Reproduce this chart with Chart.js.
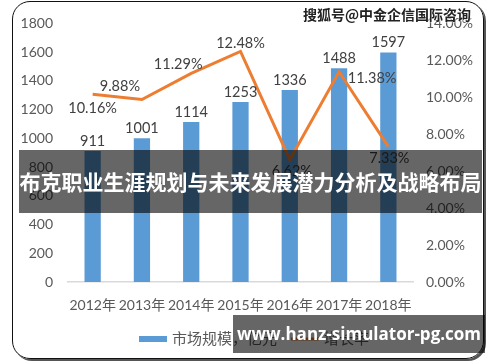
<!DOCTYPE html>
<html>
<head>
<meta charset="utf-8">
<script src="https://cdn.jsdelivr.net/npm/chart.js@4.4.0/dist/chart.umd.min.js"></script>
<style>
  html, body { margin: 0; padding: 0; background: #fff; }
  #wrap { position: relative; width: 500px; height: 362px; overflow: hidden; background: #fff; }
  #frame { position: absolute; left: 12px; top: 1px; width: 470px; height: 356px; border: 1.5px solid #111;
    border-radius: 18px; box-shadow: 2px 2px 0 #555; }
  #box { position: absolute; left: 0; top: 0; width: 500px; height: 362px; }
  .banner { position: absolute; background: rgba(0,0,0,0.6); color: #fff; font-weight: bold;
    font-family: "Noto Sans CJK SC", "Noto Sans", sans-serif; white-space: nowrap; }
  #title { left: 19px; top: 150px; width: 463px; height: 63px; line-height: 63px; font-size: 21px; text-align: center; }
  #url { left: 233px; top: 315px; width: 252px; height: 38px; line-height: 38px; font-size: 17px; text-align: center;
    font-family: "Open Sans", "Noto Sans", sans-serif; }
  #mark { position: absolute; left: 303px; top: 4px; font-size: 14px; font-weight: bold; color: #222;
    font-family: "Noto Sans CJK SC", sans-serif; text-shadow: 0 0 2px #fff, 0 0 2px #fff; }
</style>
</head>
<body>
<div id="wrap">
  <div id="frame"></div>
  <div id="box"><canvas id="chartCanvas" width="500" height="362"></canvas></div>
  <div id="mark">搜狐号@中金企信国际咨询</div>
  <div class="banner" id="title">布克职业生涯规划与未来发展潜力分析及战略布局</div>
  <div class="banner" id="url">www.hanz-simulator-pg.com</div>
</div>
<script>
const years = ['2012年', '2013年', '2014年', '2015年', '2016年', '2017年', '2018年'];
const marketSize = [911, 1001, 1114, 1253, 1336, 1488, 1597];
const growthRate = [10.16, 9.88, 11.29, 12.48, 6.62, 11.38, 7.33];

// where each growth label sits relative to its point [dx, dy]
const rateLabelShift = [[0, 14], [-22, -13], [-13, -9], [0, -8], [2, 12], [33, 7], [1, 12]];

const font = 'Lato, "Noto Sans CJK SC", sans-serif';
const grey = '#595959';

const valueLabels = {
  id: 'valueLabels',
  afterDatasetsDraw(chart) {
    const ctx = chart.ctx;
    ctx.save();
    ctx.font = '14.5px ' + font;
    ctx.fillStyle = '#404040';
    ctx.textAlign = 'center';
    ctx.textBaseline = 'middle';
    chart.getDatasetMeta(0).data.forEach((bar, i) => {
      ctx.fillText(String(marketSize[i]), bar.x, bar.y - 10);
    });
    chart.getDatasetMeta(1).data.forEach((pt, i) => {
      const s = rateLabelShift[i];
      ctx.fillText(growthRate[i].toFixed(2) + '%', pt.x + s[0], pt.y + s[1]);
    });
    ctx.restore();
  }
};

// legend drawn under the axis: bar swatch, then line swatch
const bottomLegend = {
  id: 'bottomLegend',
  afterDraw(chart) {
    const ctx = chart.ctx;
    const ds = chart.data.datasets;
    ctx.save();
    ctx.font = '15px ' + font;
    ctx.textBaseline = 'middle';
    const y = 339;
    let x = 139;
    ctx.fillStyle = ds[0].backgroundColor;
    ctx.fillRect(x, y - 3, 28, 6);
    ctx.fillStyle = grey;
    ctx.fillText(ds[0].label, x + 33, y);
    x += 33 + ctx.measureText(ds[0].label).width + 14;
    ctx.strokeStyle = ds[1].borderColor;
    ctx.lineWidth = 3;
    ctx.beginPath();
    ctx.moveTo(x, y);
    ctx.lineTo(x + 28, y);
    ctx.stroke();
    ctx.fillText(ds[1].label, x + 33, y);
    ctx.restore();
  }
};

new Chart(document.getElementById('chartCanvas'), {
  type: 'bar',
  data: {
    labels: years,
    datasets: [
      {
        label: '市场规模，亿元',
        data: marketSize,
        backgroundColor: '#5B9BD5',
        categoryPercentage: 1,
        barPercentage: 0.33,
        yAxisID: 'y',
        order: 2
      },
      {
        type: 'line',
        label: '增长率',
        data: growthRate,
        borderColor: '#ED7D31',
        backgroundColor: '#ED7D31',
        borderWidth: 3,
        pointRadius: 0,
        tension: 0,
        yAxisID: 'y1',
        order: 1
      }
    ]
  },
  options: {
    responsive: false,
    animation: false,
    layout: { padding: { left: 12, right: 12, top: 12, bottom: 40 } },
    scales: {
      x: {
        grid: { display: false, drawTicks: false },
        border: { color: '#d9d9d9', width: 1.5 },
        ticks: { color: grey, font: { family: font, size: 14 }, maxRotation: 0, autoSkip: false, padding: 15 },
        afterFit: s => { s.height = 40; }
      },
      y: {
        min: 0, max: 1800,
        grid: { display: false, drawTicks: false },
        border: { display: false },
        ticks: { stepSize: 200, color: grey, font: { family: font, size: 14 }, padding: 15,
          callback: v => String(v) },
        afterFit: s => { s.width = 56; }
      },
      y1: {
        position: 'right',
        min: 0, max: 14,
        grid: { display: false, drawTicks: false },
        border: { display: false },
        ticks: { stepSize: 2, color: grey, font: { family: font, size: 14 }, padding: 13,
          callback: v => v.toFixed(2) + '%' },
        afterFit: s => { s.width = 75; }
      }
    },
    plugins: {
      legend: { display: false },
      tooltip: { enabled: false }
    }
  },
  plugins: [valueLabels, bottomLegend]
});
</script>
</body>
</html>
